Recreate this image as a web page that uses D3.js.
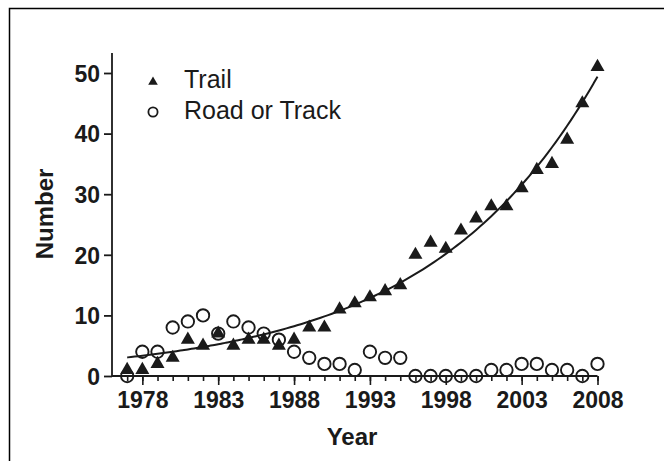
<!DOCTYPE html>
<html><head><meta charset="utf-8">
<script src="https://cdn.jsdelivr.net/npm/d3@7/dist/d3.min.js"></script>
<style>
body{margin:0;background:#fff}
svg{display:block;font-family:"Liberation Sans",Arial,sans-serif}
</style>
</head><body>
<svg id="c" width="664" height="461"></svg>
<script>
// ---- data ----
const years = [1977,1978,1979,1980,1981,1982,1983,1984,1985,1986,1987,1988,1989,1990,1991,1992,
               1993,1994,1995,1996,1997,1998,1999,2000,2001,2002,2003,2004,2005,2006,2007,2008];
const trail = [1,1,2,3,6,5,7,5,6,6,5,6,8,8,11,12,13,14,15,20,22,21,24,26,28,28,31,34,35,39,45,51];
const road  = [0,4,4,8,9,10,7,9,8,7,6,4,3,2,2,1,4,3,3,0,0,0,0,0,1,1,2,2,1,1,0,2];
const xTickLabels = [1978,1983,1988,1993,1998,2003,2008];
const yTicks = [0,10,20,30,40,50];
const seriesNames = ["Trail","Road or Track"];

const svg = d3.select("#c");
const ink = "#1a1a1a";

// frame (only top and left visible in the reference)
svg.append("rect").attr("x",9.5).attr("y",8.5).attr("width",700).attr("height",500)
  .attr("fill","none").attr("stroke","#000").attr("stroke-width",1.5);

const x = d3.scaleLinear().domain([1976, 2008]).range([112, 597.5]);
const y = d3.scaleLinear().domain([0, 50]).range([376, 73]);

// y axis
const gy = svg.append("g").attr("transform","translate(112,0)")
  .call(d3.axisLeft(y).tickValues(yTicks).tickSize(8).tickPadding(4).tickFormat(d3.format("d")));
gy.select(".domain").remove();
gy.append("line").attr("x1",0).attr("x2",0).attr("y1",53).attr("y2",377)
  .attr("stroke",ink).attr("stroke-width",1.8);
gy.selectAll(".tick line").attr("stroke",ink).attr("stroke-width",1.8);
gy.selectAll(".tick text").attr("fill",ink).attr("font-size",23).attr("font-weight","bold")
  .attr("font-family","'Liberation Sans',Arial,sans-serif").attr("dy","0.36em");

// x axis: minor ticks each year, major at labelled years
const gx = svg.append("g").attr("transform","translate(0,376)");
gx.call(d3.axisBottom(x).tickValues(years).tickSize(5).tickFormat(""));
gx.select(".domain").remove();
gx.selectAll(".tick line").attr("stroke",ink).attr("stroke-width",1.6);
const gx2 = svg.append("g").attr("transform","translate(0,376)")
  .call(d3.axisBottom(x).tickValues(xTickLabels).tickSize(9).tickPadding(7).tickFormat(d3.format("d")));
gx2.select(".domain").remove();
gx2.selectAll(".tick line").attr("stroke",ink).attr("stroke-width",1.6);
gx2.selectAll(".tick text").attr("fill",ink).attr("font-size",23).attr("font-weight","bold")
  .attr("font-family","'Liberation Sans',Arial,sans-serif");
svg.append("line").attr("x1",x(1976)).attr("x2",x(2008)).attr("y1",376).attr("y2",376)
  .attr("stroke",ink).attr("stroke-width",1.8);

// axis titles
svg.append("text").attr("x",352).attr("y",445).attr("text-anchor","middle")
  .attr("font-size",24).attr("font-weight","bold").attr("fill",ink).text("Year");
svg.append("text").attr("transform","translate(53,214) rotate(-90)").attr("text-anchor","middle")
  .attr("font-size",24).attr("font-weight","bold").attr("fill",ink).text("Number");

// exponential growth fit (least squares) to the Trail data
const pts = years.map((yr,i)=>({t:yr-years[0], v:trail[i]}));
let best = {err:Infinity};
for (let b=0.03; b<=0.2; b+=0.0001){
  let se=0, sv=0;
  pts.forEach(p=>{const e=Math.exp(b*p.t); se+=e*e; sv+=p.v*e;});
  const a = sv/se;
  let err=0; pts.forEach(p=>{const r=p.v-a*Math.exp(b*p.t); err+=r*r;});
  if (err<best.err) best={err,a,b};
}
const fitYears = d3.range(years[0], years[years.length-1]+0.001, 0.25);
const line = d3.line().x(d=>x(d)).y(d=>y(best.a*Math.exp(best.b*(d-years[0])))).curve(d3.curveBasis);

// road circles
svg.append("g").selectAll("circle").data(years).join("circle")
  .attr("cx",(d)=>x(d)).attr("cy",(d,i)=>y(road[i])).attr("r",6.2)
  .attr("fill","none").attr("stroke",ink).attr("stroke-width",1.9);

svg.append("path").datum(fitYears).attr("d",line).attr("fill","none")
  .attr("stroke",ink).attr("stroke-width",2);

// trail triangles
const tri = d3.symbol().type(d3.symbolTriangle).size(85);
svg.append("g").selectAll("path").data(years).join("path")
  .attr("d",tri).attr("transform",(d,i)=>`translate(${x(d)},${y(trail[i])})`).attr("fill",ink);

// legend
const lg = svg.append("g");
lg.append("path").attr("d",d3.symbol().type(d3.symbolTriangle).size(40)())
  .attr("transform","translate(153,82)").attr("fill",ink);
lg.append("circle").attr("cx",153).attr("cy",112).attr("r",4.6)
  .attr("fill","none").attr("stroke",ink).attr("stroke-width",1.8);
lg.append("text").attr("x",184).attr("y",88).attr("font-size",25).attr("fill",ink).text(seriesNames[0]);
lg.append("text").attr("x",184).attr("y",119).attr("font-size",25).attr("fill",ink).text(seriesNames[1]);
</script>
</body></html>
